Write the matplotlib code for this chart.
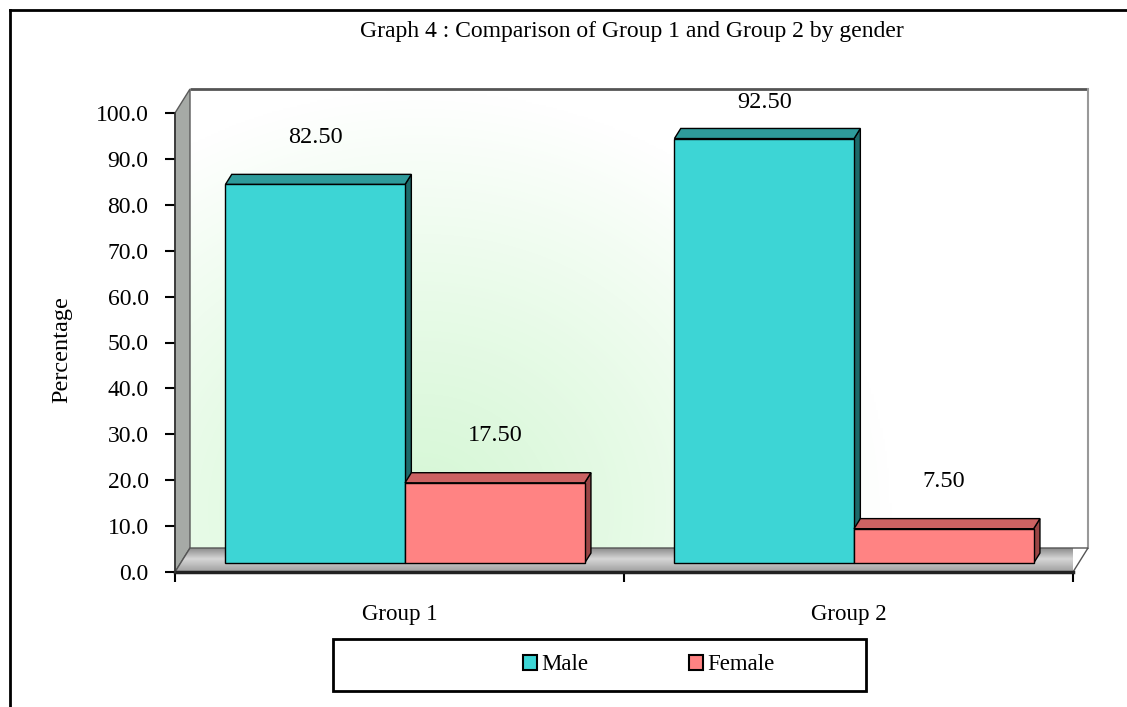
import matplotlib.pyplot as plt
import numpy as np
from matplotlib.patches import Polygon, Rectangle, Patch
from matplotlib.lines import Line2D

plt.rcParams['font.family'] = ['Liberation Serif', 'DejaVu Serif']

groups = ['Group 1', 'Group 2']
series = ['Male', 'Female']
male = [82.50, 92.50]
female = [17.50, 7.50]
yticks = np.arange(0, 101, 10)

# front, top and side shades for each series
shades = {
    'Male': ('#3dd5d5', '#2e9b9b', '#1d6a6a'),
    'Female': ('#ff8383', '#cc6262', '#9a4545'),
}

W, H, DPI = 1127, 707, 100
fig = plt.figure(figsize=(W / DPI, H / DPI), dpi=DPI)
ax = fig.add_axes([175 / W, 135 / H, 898 / W, 459 / H])
ax.set_xlim(-0.5, 1.5)
ax.set_ylim(0, 100)
ax.patch.set_visible(False)

# one screen pixel in data units, used for the fake 3d depth
px_x = 2.0 / 898
px_y = 100.0 / 459
dx, dy = 15 * px_x, 24 * px_y
f0, f1 = 0.37, 0.79          # bar front / back inside the box depth
bar_w = 0.4

# back wall with a soft green glow
nx, ny = 400, 300
gx = np.linspace(190, 1088, nx)
gy = np.linspace(88, 547, ny)
GX, GY = np.meshgrid(gx, gy)
r = np.sqrt(((GX - 420) / 470) ** 2 + ((GY - 510) / 420) ** 2)
t = np.clip(r, 0, 1) ** 1.2
green = np.array([0.84, 0.97, 0.84])
img = green[None, None, :] * (1 - t[..., None]) + t[..., None]
wall = ax.imshow(img, extent=[-0.5 + dx, 1.5 + dx, dy, 100 + dy],
                 aspect='auto', origin='upper', zorder=0, interpolation='bilinear')
wall.set_clip_on(False)
ax.plot([-0.5 + dx, 1.5 + dx], [100 + dy, 100 + dy], color='#555555', lw=2,
        zorder=1, clip_on=False, solid_capstyle='butt')
ax.plot([1.5 + dx, 1.5 + dx], [dy, 100 + dy], color='#999999', lw=1.5,
        zorder=1, clip_on=False)

# left side wall
ax.add_patch(Polygon([(-0.5, 0), (-0.5, 100), (-0.5 + dx, 100 + dy), (-0.5 + dx, dy)],
                     closed=True, facecolor='#a6aaa6', edgecolor='#5a5a5a', lw=1,
                     zorder=1, clip_on=False))

# floor with a grey metallic gradient
floor = Polygon([(-0.5, 0), (1.5, 0), (1.5 + dx, dy), (-0.5 + dx, dy)], closed=True,
                facecolor='none', edgecolor='#555555', lw=1, zorder=2, clip_on=False)
ax.add_patch(floor)
fv = np.linspace(0, 1, 50)
fcol = np.interp(fv, [0, 0.45, 1], [0.55, 0.84, 0.62])
fimg = np.repeat(fcol[:, None], 10, axis=1)
fl = ax.imshow(fimg, extent=[-0.5, 1.5 + dx, 0, dy], cmap='gray', vmin=0, vmax=1,
               aspect='auto', origin='upper', zorder=1.5, interpolation='bilinear')
fl.set_clip_path(floor)
ax.plot([-0.5, 1.5], [0, 0], color='#222222', lw=2.5, zorder=2.5, clip_on=False)

# bars drawn left to right so each front face hides the previous side face
values = {'Male': male, 'Female': female}
z = 3
for i, g in enumerate(groups):
    for j, s in enumerate(series):
        v = values[s][i]
        front, top, side = shades[s]
        xl = i - bar_w + j * bar_w
        a, b = f0 * dx, f0 * dy
        c, d = f1 * dx, f1 * dy
        ax.add_patch(Polygon([(xl + bar_w + a, b), (xl + bar_w + a, b + v),
                              (xl + bar_w + c, d + v), (xl + bar_w + c, d)],
                             closed=True, facecolor=side, edgecolor='black', lw=1,
                             zorder=z, clip_on=False))
        ax.add_patch(Polygon([(xl + a, b + v), (xl + bar_w + a, b + v),
                              (xl + bar_w + c, d + v), (xl + c, d + v)],
                             closed=True, facecolor=top, edgecolor='black', lw=1,
                             zorder=z, clip_on=False))
        ax.bar(xl + a, v, width=bar_w, bottom=b, align='edge', color=front,
               edgecolor='black', lw=1, zorder=z + 0.5, clip_on=False)
        ax.text(xl + bar_w / 2 + a, min(v + b + 10.2, 102.3), f'{v:.2f}',
                ha='center', va='center', fontsize=17.5, zorder=10)
        z += 1

# axes and ticks
for name in ['top', 'right', 'bottom']:
    ax.spines[name].set_visible(False)
ax.spines['left'].set_color('#333333')
ax.spines['left'].set_linewidth(1.2)
ax.set_yticks(yticks)
ax.set_yticklabels([f'{t:.1f}' for t in yticks], fontsize=17)
ax.tick_params(axis='y', direction='out', length=7, width=1.5, pad=12)
ax.set_xticks([-0.5, 0.5, 1.5])
ax.set_xticklabels([])
ax.tick_params(axis='x', which='major', direction='out', length=7, width=1.5)
ax.set_xticks([0, 1], minor=True)
ax.set_xticklabels(groups, minor=True, fontsize=16.5)
ax.tick_params(axis='x', which='minor', length=0, pad=23)

fig.text(62 / W, 1 - 350 / H, 'Percentage', rotation=90, ha='center', va='center',
         fontsize=17.5)
fig.text(632 / W, 1 - 31 / H, 'Graph 4 : Comparison of Group 1 and Group 2 by gender',
         ha='center', va='center', fontsize=17)

# legend with its own frame
fig.add_artist(Rectangle((333 / W, 1 - 691 / H), 533 / W, 52 / H, transform=fig.transFigure,
                         fill=False, edgecolor='black', lw=2))
handles = [Patch(facecolor=shades[s][0], edgecolor='black', lw=1.5) for s in series]
fig.legend(handles, series, loc='center left', bbox_to_anchor=(523 / W, 1 - 665 / H),
           ncol=2, frameon=False, fontsize=16.5, handlelength=0.6, handleheight=0.6,
           handletextpad=0.2, columnspacing=4.4, borderpad=0, borderaxespad=0)

# outer chart border
fig.add_artist(Line2D([10 / W, 10 / W], [0, 1 - 10 / H], transform=fig.transFigure,
                      color='black', lw=2))
fig.add_artist(Line2D([10 / W, 1], [1 - 10 / H, 1 - 10 / H], transform=fig.transFigure,
                      color='black', lw=2))

fig.savefig('out.png', dpi=DPI)
